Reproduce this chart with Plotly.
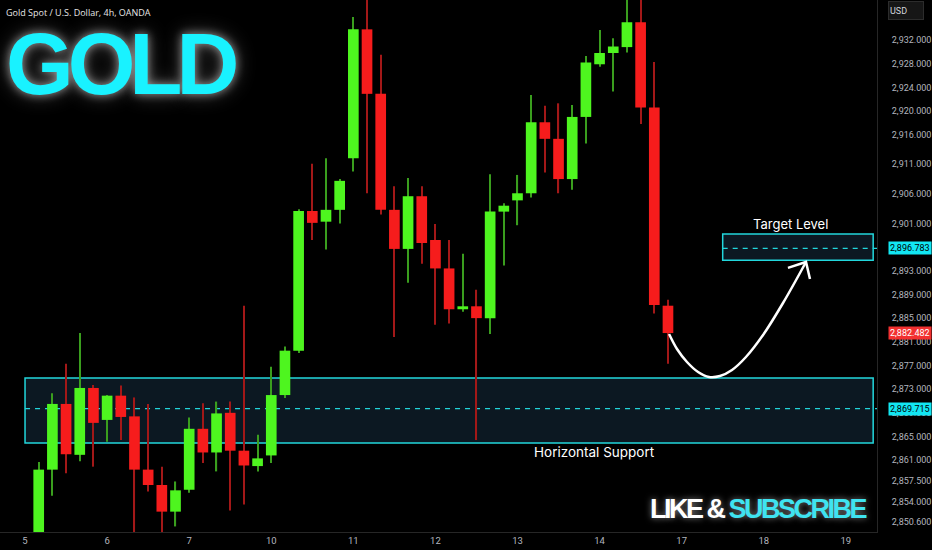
import plotly.graph_objects as go

# ---------------- data (4h candles, gold spot) ----------------
bar_index = list(range(1, 48))
opens = [2847.5, 2859.4, 2870.5, 2861.9, 2873.2, 2867.8, 2871.9, 2868.4, 2859.4, 2856.8,
         2852.3, 2856.0, 2866.3, 2862.3, 2869.0, 2862.6, 2860.0, 2861.8, 2872.0, 2879.5,
         2903.1, 2901.3, 2903.3, 2912.0, 2933.8, 2922.9, 2903.3, 2896.7, 2905.6, 2898.2,
         2893.4, 2886.5, 2887.0, 2885.0, 2903.0, 2904.9, 2906.1, 2918.1, 2915.3, 2908.5,
         2919.0, 2927.9, 2929.8, 2930.8, 2935.0, 2920.6, 2887.1]
highs = [2860.7, 2872.3, 2877.3, 2882.5, 2873.7, 2872.0, 2873.6, 2871.6, 2870.5, 2859.9,
         2857.4, 2868.2, 2870.6, 2870.9, 2870.9, 2887.1, 2865.3, 2876.8, 2880.2, 2903.4,
         2911.1, 2912.0, 2908.5, 2935.9, 2940.0, 2929.5, 2907.3, 2908.7, 2907.3, 2900.9,
         2898.2, 2895.9, 2889.8, 2909.3, 2904.4, 2909.2, 2922.7, 2920.9, 2921.3, 2921.0,
         2929.3, 2933.7, 2932.3, 2940.0, 2940.5, 2928.3, 2888.1]
lows = [2845.0, 2855.0, 2858.8, 2860.8, 2859.9, 2864.1, 2864.4, 2848.5, 2855.7, 2848.5,
        2849.8, 2855.5, 2860.5, 2859.1, 2852.5, 2853.5, 2859.1, 2860.5, 2871.5, 2879.1,
        2898.2, 2896.6, 2901.0, 2909.8, 2906.1, 2902.5, 2881.8, 2891.0, 2894.2, 2883.9,
        2884.1, 2886.1, 2864.4, 2882.3, 2893.9, 2900.7, 2905.4, 2909.6, 2906.1, 2906.7,
        2914.5, 2927.5, 2923.3, 2929.9, 2917.8, 2885.8, 2877.3]
closes = [2859.4, 2870.5, 2862.0, 2873.2, 2867.3, 2871.9, 2868.3, 2859.4, 2856.8, 2852.3,
          2855.9, 2866.3, 2862.3, 2868.9, 2862.6, 2860.1, 2861.3, 2872.0, 2879.5, 2903.1,
          2901.1, 2903.3, 2908.2, 2933.8, 2922.9, 2903.3, 2896.7, 2905.6, 2897.7, 2893.4,
          2886.5, 2887.0, 2885.0, 2903.0, 2904.0, 2906.1, 2918.1, 2915.3, 2908.5, 2919.0,
          2928.2, 2929.8, 2930.9, 2935.0, 2920.6, 2887.2, 2882.482]

day_tick_index = [0, 6, 12, 18, 24, 30, 36, 42, 48, 54, 60]
day_labels = ["5", "6", "7", "10", "11", "12", "13", "14", "17", "18", "19"]

price_ticks = [2932, 2928, 2924, 2920, 2916, 2911, 2906, 2901, 2893, 2889, 2885, 2881,
               2877, 2873, 2869, 2865, 2861, 2857.5, 2854, 2850.6]

support_zone = [2863.9, 2874.9]
support_level = 2869.715
target_zone = [2894.8, 2899.2]
target_level = 2896.783
last_price = 2882.482

support_x = [0.0, 62.0]
target_x = [51.0, 62.0]

# projected path (bar index, price)
path_x = [47.08, 47.66, 48.39, 49.20, 50.0, 50.80, 51.68, 52.70, 53.95, 55.41, 57.09]
path_y = [2882.32, 2879.79, 2877.59, 2875.90, 2875.06, 2875.22, 2876.24, 2878.43, 2882.15, 2887.56, 2894.49]
head_x = [55.77, 57.09, 57.38]
head_y = [2893.5, 2894.49, 2891.6]

X_RANGE = [-1.83, 62.28]
Y_RANGE = [2848.86, 2938.76]

GREEN = "#4ef51f"
RED = "#f61c1c"
GREEN_WICK = "#3a9e1e"
RED_WICK = "#a31818"
CYAN = "#22d6dc"

up = [c >= o for o, c in zip(opens, closes)]
body_base = [min(o, c) for o, c in zip(opens, closes)]
body_h = [max(abs(c - o), 0.35) for o, c in zip(opens, closes)]
wick_h = [h - l for h, l in zip(highs, lows)]

fig = go.Figure()

# wicks
fig.add_trace(go.Bar(x=bar_index, y=wick_h, base=lows, width=0.085,
                     marker=dict(color=[GREEN_WICK if u else RED_WICK for u in up], line=dict(width=0)),
                     hoverinfo="skip"))
# bodies
fig.add_trace(go.Bar(x=bar_index, y=body_h, base=body_base, width=0.78,
                     marker=dict(color=[GREEN if u else RED for u in up], line=dict(width=0)),
                     hoverinfo="skip"))

# projected path
fig.add_trace(go.Scatter(x=path_x, y=path_y, mode="lines", line=dict(color="white", width=2.5, shape="spline"),
                         hoverinfo="skip"))
fig.add_trace(go.Scatter(x=head_x, y=head_y, mode="lines", line=dict(color="white", width=2.5),
                         hoverinfo="skip"))

shapes = []
for (x0, x1), (y0, y1) in [(support_x, support_zone), (target_x, target_zone)]:
    shapes.append(dict(type="rect", xref="x", yref="y", x0=x0, x1=x1, y0=y0, y1=y1,
                       fillcolor="#0c1822", line=dict(color=CYAN, width=1.5), layer="below"))
shapes.append(dict(type="line", xref="x", yref="y", x0=support_x[0], x1=X_RANGE[1], y0=support_level,
                   y1=support_level, line=dict(color=CYAN, width=1.2, dash="5px,5px"), layer="below"))
shapes.append(dict(type="line", xref="x", yref="y", x0=target_x[0], x1=X_RANGE[1], y0=target_level,
                   y1=target_level, line=dict(color=CYAN, width=1.2, dash="5px,5px"), layer="below"))

annotations = [
    dict(xref="paper", yref="paper", x=0.005, y=0.993, xanchor="left", yanchor="top", showarrow=False,
         text="Gold Spot / U.S. Dollar, 4h, OANDA", font=dict(family="Open Sans", size=9, color="#e6e6e6")),
    dict(xref="paper", yref="paper", x=121 / 877, y=1 - 63 / 532, xanchor="center", yanchor="middle",
         showarrow=False,
         text="<span style='letter-spacing:-6px'><b>GOLD</b></span>",
         font=dict(family="Liberation Sans", size=87, color="#19f2ff",
                   shadow="0 0 10px rgba(255,255,255,0.55), 0 0 20px rgba(255,255,255,0.3)")),
    dict(xref="paper", yref="paper", x=869 / 877, y=1 - 509 / 532, xanchor="right", yanchor="middle",
         showarrow=False,
         text="<span style='letter-spacing:-2.5px'><b>LIKE &amp; <span style='color:#3fe3f0'>SUBSCRIBE</span></b></span>",
         font=dict(family="Liberation Sans", size=27, color="#ffffff",
                   shadow="0 0 6px rgba(255,255,255,0.5)")),
    dict(xref="x", yref="y", x=(target_x[0] + target_x[1]) / 2, y=target_zone[1], xanchor="center",
         yanchor="bottom", yshift=0, xshift=-7,
         showarrow=False, text="Target Level", font=dict(family="Inter", size=13, color="white")),
    dict(xref="paper", yref="y", x=594 / 877, y=support_zone[0], xanchor="center", yanchor="top", yshift=1,
         showarrow=False, text="Horizontal Support", font=dict(family="Inter", size=13.5, color="white")),
    dict(xref="paper", yref="y", x=1, y=target_level, xanchor="left", xshift=11, showarrow=False,
         text=f"{target_level:,.3f}", bgcolor="#12e6f2", borderpad=1,
         font=dict(family="Roboto", size=9, color="#000")),
    dict(xref="paper", yref="y", x=1, y=last_price, xanchor="left", xshift=11, showarrow=False,
         text=f"{last_price:,.3f}", bgcolor="#f23030", borderpad=1,
         font=dict(family="Roboto", size=9, color="#fff")),
    dict(xref="paper", yref="y", x=1, y=support_level, xanchor="left", xshift=11, showarrow=False,
         text=f"{support_level:,.3f}", bgcolor="#12e6f2", borderpad=1,
         font=dict(family="Roboto", size=9, color="#000")),
    dict(xref="paper", yref="paper", x=1, y=1, xanchor="left", yanchor="top", xshift=11, yshift=-1,
         showarrow=False, text="USD", width=32, height=15, align="left", bgcolor="#161616",
         bordercolor="#2c2c2c", borderwidth=1, borderpad=1,
         font=dict(family="Roboto", size=9, color="#d1d4dc")),
]

fig.update_layout(
    width=932, height=550, margin=dict(l=0, r=55, t=0, b=18, autoexpand=False),
    paper_bgcolor="#000000", plot_bgcolor="#000000",
    barmode="overlay", showlegend=False, shapes=shapes, annotations=annotations,
    xaxis=dict(range=X_RANGE, tickvals=day_tick_index, ticktext=day_labels, showgrid=False, zeroline=False,
               showline=True, linecolor="#262626", ticks="", fixedrange=True, automargin=False,
               tickfont=dict(family="Roboto", size=9.5, color="#b2b5be")),
    yaxis=dict(side="right", range=Y_RANGE, tickvals=price_ticks,
               ticktext=[f"{v:,.3f}" for v in price_ticks], showgrid=False, zeroline=False,
               showline=True, linecolor="#262626", ticks="", ticklabelstandoff=12, fixedrange=True,
               automargin=False, tickfont=dict(family="Roboto", size=9, color="#b2b5be")),
)

fig.write_html("out.html", config={"displayModeBar": False},
               post_script="document.body.style.margin='0';document.body.style.background='#000';")
